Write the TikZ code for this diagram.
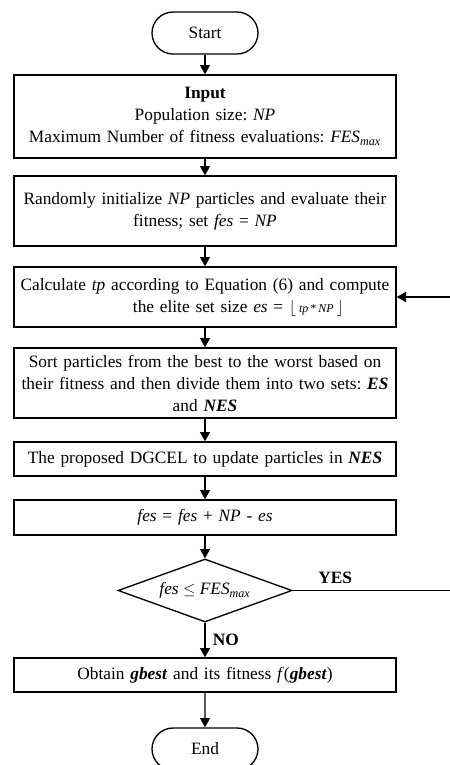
\documentclass[tikz,border=0pt]{standalone}
\usepackage{fontspec}
\setmainfont{Liberation Serif}
\usetikzlibrary{shapes.geometric,shapes.misc,arrows.meta}
\frenchspacing
\hyphenpenalty=10000

\tikzset{
  terminal/.style={draw, rounded rectangle, line width=1pt,
    minimum width=79.5pt, minimum height=31.5pt, inner sep=0pt},
  procbox/.style={draw, rectangle, line width=1pt, minimum width=286.5pt,
    text width=284.5pt, inner xsep=1pt, inner ysep=0pt, align=center},
  decision/.style={draw, diamond, aspect=2.76, line width=1pt,
    minimum width=130.5pt, minimum height=47.25pt, inner sep=0pt},
  flowarrow/.style={line width=1pt, -{Triangle[length=7pt, width=7.5pt]}},
  answer/.style={font=\fontsize{13}{16.5}\selectfont\bfseries},
}

\begin{document}
\begin{tikzpicture}[x=0.75pt, y=-0.75pt, font=\fontsize{13}{16.5}\selectfont]
	\useasboundingbox (0,0) rectangle (450,765);
	% 起止框与处理框
	\node[terminal] (start) at (205,33) {Start};
	\node[procbox, minimum height=62.25pt] (input) at (205,116.5)
		{\textbf{Input}\\ Population size: \textit{NP}\\
		 Maximum Number of fitness evaluations: \textit{FES}\textsubscript{\textit{max}}};
	\node[procbox, minimum height=52.5pt] (init) at (205,211)
		{Randomly initialize \textit{NP} particles and evaluate their\\
		 fitness; set \textit{fes} = \textit{NP}};
	\node[procbox, minimum height=45pt] (calc) at (205,297)
		{Calculate \textit{tp} according to Equation (6) and compute\\
		 \hspace*{50pt}the elite set size \textit{es} = $\lfloor$\,{\small\textit{tp}\,*\,\textit{NP}}\,$\rfloor$};
	\node[procbox, minimum height=52.5pt] (sort) at (205,383)
		{Sort particles from the best to the worst based on\\
		 their fitness and then divide them into two sets: \textbf{\textit{ES}}\\
		 and \textbf{\textit{NES}}};
	\node[procbox, minimum height=25.5pt] (dgcel) at (205,459)
		{The proposed DGCEL to update particles in \textbf{\textit{NES}}};
	\node[procbox, minimum height=26.25pt] (fesupd) at (205,517.5)
		{\textit{fes} = \textit{fes} + \textit{NP} - \textit{es}};
	% 判断框
	\node[decision] (check) at (205,590.5)
		{\textit{fes} $\leq$ \textit{FES}\textsubscript{\textit{max}}};
	\node[procbox, minimum height=25.5pt] (obtain) at (205,675)
		{Obtain \textbf{\textit{gbest}} and its fitness \textit{f}(\textbf{\textit{gbest}})};
	\node[terminal] (end) at (205,749) {End};

	% 流程箭头
	\draw[flowarrow] (start) -- (input);
	\draw[flowarrow] (input) -- (init);
	\draw[flowarrow] (init) -- (calc);
	\draw[flowarrow] (calc) -- (sort);
	\draw[flowarrow] (sort) -- (dgcel);
	\draw[flowarrow] (dgcel) -- (fesupd);
	\draw[flowarrow] (fesupd) -- (check);
	\draw[flowarrow] (check) -- node[answer, right, xshift=2pt] {NO} (obtain);
	\draw[flowarrow] (obtain) -- (end);

	% 回到计算 tp 的循环(竖线在页面外)
	\coordinate (loopr) at (456,590.5);
	\draw[flowarrow] (check.east) -- node[answer, above, pos=0.26, yshift=1pt] {YES} (loopr)
		|- (calc.east);
\end{tikzpicture}
\end{document}
